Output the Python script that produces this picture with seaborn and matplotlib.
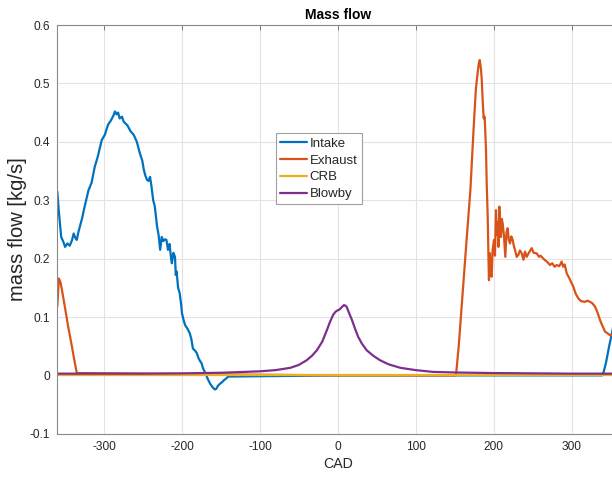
import matplotlib
matplotlib.use("Agg")
import matplotlib.pyplot as plt
import seaborn as sns
import numpy as np
import pandas as pd

# ---------------- data ----------------
intake_cad = [-360, -358, -355, -352, -350, -347, -344, -341, -339, -337, -335, -333, -331,
              -328, -326, -323, -320, -316, -312, -308, -303, -299, -295, -291, -288, -286,
              -284, -282, -280, -277, -275, -273, -270, -266, -262, -258, -254, -251, -249,
              -247, -245, -243, -241, -239, -237, -235, -232, -230, -228, -226, -224, -222,
              -220, -218, -216, -214, -213, -211, -209, -208, -207, -205, -203, -201, -200,
              -198, -196, -193, -190, -188, -186, -183, -181, -179, -177, -175, -173, -170,
              -167, -164, -161, -158, -156, -154, -151, -149, -146, -143, -141,
              0, 200, 339, 341, 344, 348, 352, 356, 360]
intake_val = [0.315, 0.280, 0.237, 0.228, 0.220, 0.226, 0.222, 0.232, 0.243, 0.236, 0.232, 0.245, 0.255,
              0.270, 0.283, 0.300, 0.317, 0.330, 0.357, 0.375, 0.403, 0.412, 0.429, 0.437, 0.445, 0.452,
              0.447, 0.450, 0.440, 0.443, 0.435, 0.432, 0.428, 0.418, 0.412, 0.400, 0.380, 0.368, 0.352,
              0.342, 0.335, 0.333, 0.340, 0.322, 0.300, 0.290, 0.255, 0.240, 0.215, 0.237, 0.230, 0.233,
              0.232, 0.215, 0.225, 0.200, 0.192, 0.210, 0.203, 0.172, 0.178, 0.150, 0.141, 0.120, 0.106,
              0.095, 0.086, 0.080, 0.072, 0.062, 0.046, 0.042, 0.038, 0.030, 0.025, 0.021, 0.012, 0.004,
              -0.006, -0.014, -0.020, -0.024, -0.023, -0.018, -0.014, -0.012, -0.008, -0.005, -0.002,
              0.0, 0.0, 0.0, 0.006, 0.022, 0.050, 0.075, 0.105, 0.135]

exhaust_cad = [-360, -358, -356, -354, -350, -346, -342, -338, -335, 0, 151.5, 155, 160, 165,
               170, 174, 177, 179, 180.5, 182, 183.5, 184.5, 185.7, 187, 188.3, 189, 190, 190.9,
               192.2, 193.2, 193.8, 195.1, 196, 197.3, 198.5, 200.3, 201.5, 202.8, 204, 205, 206,
               207.1, 208.2, 209.2, 210.3, 211.4, 213, 214.8, 216.3, 217.8, 219.3, 220.8, 222.5,
               224.2, 226, 227.2, 229.4, 231.4, 233.5, 235.8, 238, 240, 242.2, 245, 248.6, 251,
               255, 258, 260, 263.5, 266, 268, 272.1, 275, 278, 280.7, 284, 287.1, 289, 291,
               293.5, 297, 302, 305, 308.4, 312, 317, 320, 323.4, 326, 329.8, 333, 336.2, 339,
               342.7, 346, 349, 351.6, 356, 360]
exhaust_val = [0.118, 0.166, 0.160, 0.146, 0.115, 0.083, 0.055, 0.025, 0.004, 0.0, 0.0, 0.050, 0.140, 0.230,
               0.318, 0.420, 0.490, 0.515, 0.532, 0.540, 0.525, 0.508, 0.472, 0.440, 0.443, 0.420, 0.386, 0.329,
               0.272, 0.200, 0.163, 0.209, 0.175, 0.169, 0.215, 0.232, 0.205, 0.283, 0.240, 0.262, 0.220,
               0.289, 0.250, 0.237, 0.268, 0.260, 0.240, 0.203, 0.245, 0.252, 0.232, 0.226, 0.238,
               0.232, 0.220, 0.215, 0.203, 0.206, 0.214, 0.209, 0.198, 0.212, 0.203, 0.210, 0.218, 0.210,
               0.209, 0.203, 0.205, 0.200, 0.197, 0.195, 0.189, 0.192, 0.186, 0.189, 0.187, 0.195, 0.186, 0.190,
               0.175, 0.166, 0.152, 0.140, 0.132, 0.127, 0.126, 0.128, 0.126, 0.124, 0.118, 0.108, 0.095, 0.086,
               0.075, 0.072, 0.069, 0.069, 0.065, 0.062]

crb_cad = [-360, 360]
crb_val = [0.0, 0.0]

blowby_cad = [-360, -250, -200, -150, -100, -80, -61, -50, -40, -33, -27, -20, -14, -10, -6, -3,
              -1, 1, 3, 5, 8, 11, 14, 18, 22, 26, 31, 37, 45, 54, 65, 80, 100, 122, 150,
              200, 300, 360]
blowby_val = [0.003, 0.003, 0.0035, 0.0045, 0.007, 0.009, 0.013, 0.018, 0.026, 0.034, 0.043, 0.058, 0.078,
              0.092, 0.104, 0.109, 0.111, 0.112, 0.114, 0.117, 0.1205, 0.118, 0.108, 0.095, 0.080, 0.066,
              0.054, 0.043, 0.034, 0.026, 0.019, 0.013, 0.009, 0.006, 0.005, 0.004, 0.003, 0.003]

series_names = ["Intake", "Exhaust", "CRB", "Blowby"]
series_colors = ["#0072BD", "#D95319", "#EDB120", "#7E2F8E"]

x_ticks = [-300, -200, -100, 0, 100, 200, 300]
x_ticklabels = ["-300", "-200", "-100", "0", "100", "200", "300"]
y_ticks = [-0.1, 0.0, 0.1, 0.2, 0.3, 0.4, 0.5, 0.6]
y_ticklabels = ["-0.1", "0", "0.1", "0.2", "0.3", "0.4", "0.5", "0.6"]

# ---------------- plot ----------------
sns.set_theme(style="white")
plt.rcParams["font.family"] = ["Liberation Sans", "DejaVu Sans"]
plt.rcParams["axes.unicode_minus"] = False

fig = plt.figure(figsize=(6.12, 4.78), dpi=100)
ax = fig.add_axes([57.3 / 612, (478 - 433.8) / 478, (618.5 - 57.3) / 612, (433.8 - 25) / 478])

data = [(intake_cad, intake_val), (exhaust_cad, exhaust_val), (crb_cad, crb_val), (blowby_cad, blowby_val)]
for (xs, ys), name, col in zip(data, series_names, series_colors):
    df = pd.DataFrame({"CAD": xs, "flow": ys})
    sns.lineplot(data=df, x="CAD", y="flow", ax=ax, color=col, linewidth=1.6,
                 label=name, estimator=None, sort=False)

ax.set_xlim(-360, 360)
ax.set_ylim(-0.1, 0.6)
ax.set_xticks(x_ticks)
ax.set_xticklabels(x_ticklabels)
ax.set_yticks(y_ticks)
ax.set_yticklabels(y_ticklabels)

ax.grid(True, color="#e3e3e3", linewidth=0.8)
ax.set_axisbelow(True)
for s in ax.spines.values():
    s.set_color("#8a8a8a")
    s.set_linewidth(0.8)
ax.tick_params(axis="both", direction="in", length=3.5, width=0.6, color="#6a6a6a",
               labelsize=8.6, labelcolor="#262626", top=True, right=True, pad=5)

ax.set_xlabel("CAD", fontsize=10.2, color="#262626", labelpad=3)
ax.set_ylabel("mass flow [kg/s]", fontsize=14.5, color="#262626", labelpad=2)
ax.set_title("Mass flow", fontsize=10, fontweight="bold", color="#000000", pad=4)

leg = ax.legend(loc="upper left", bbox_to_anchor=(0.39, 0.735), fontsize=9.5,
                frameon=True, fancybox=False, framealpha=1, edgecolor="#a0a0a0",
                handlelength=2.0, handletextpad=0.25, labelspacing=0.36,
                borderpad=0.3, borderaxespad=0)
leg.get_frame().set_linewidth(0.8)
for t in leg.get_texts():
    t.set_color("#262626")

fig.savefig("out.png", dpi=100)
